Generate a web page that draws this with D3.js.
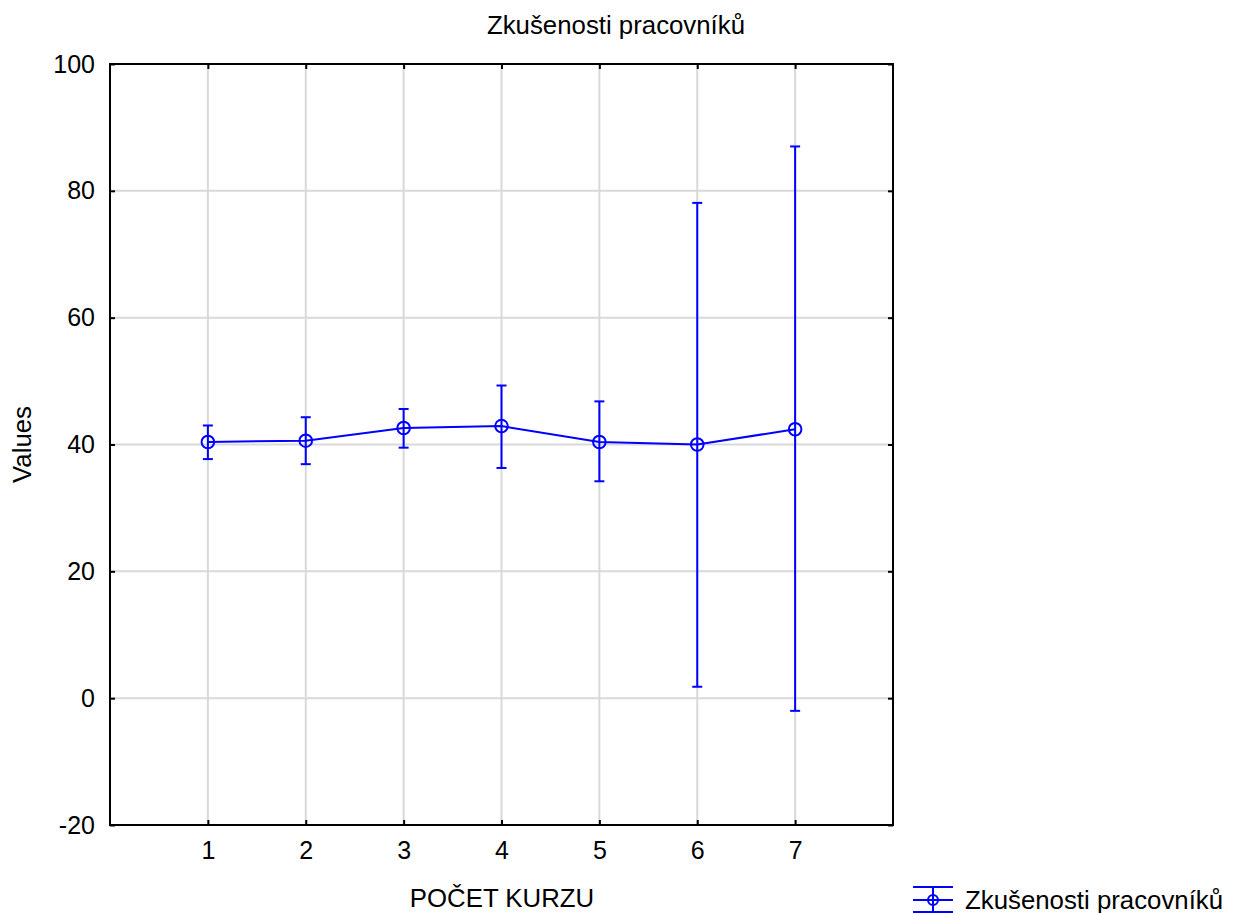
<!DOCTYPE html>
<html>
<head>
<meta charset="utf-8">
<script src="https://cdn.jsdelivr.net/npm/d3@7"></script>
<style>
  body { margin: 0; background: #fff; }
  svg text { font-family: "Liberation Sans", Arial, sans-serif; fill: #000; }
</style>
</head>
<body>
<div id="chart"></div>
<script>
// Mean with error bars per number of courses.
const categories = [1, 2, 3, 4, 5, 6, 7];
const means = [40.4, 40.6, 42.6, 42.9, 40.4, 40.0, 42.4];
const upper = [43.0, 44.3, 45.6, 49.3, 46.8, 78.1, 87.0];
const lower = [37.7, 36.9, 39.5, 36.3, 34.2, 1.8, -2.0];
const yTicks = [-20, 0, 20, 40, 60, 80, 100];
const seriesName = 'Zkušenosti pracovníků';

const data = categories.map((c, i) => ({c, m: means[i], hi: upper[i], lo: lower[i]}));

const width = 1238, height = 913;
const margin = {top: 64, right: 345, bottom: 88, left: 110};
const innerW = width - margin.left - margin.right;
const innerH = height - margin.top - margin.bottom;
const blue = '#0000ff';
const fs = 25;      // tick labels
const fsLab = 25.8; // title, axis titles, legend

const svg = d3.select('#chart').append('svg')
  .attr('width', width).attr('height', height);

const x = d3.scaleLinear().domain([0, 8]).range([0, innerW]);
const y = d3.scaleLinear().domain([-20, 100]).range([innerH, 0]);

const plot = svg.append('g').attr('transform', `translate(${margin.left},${margin.top})`);

// Grid lines
plot.selectAll('line.gx').data(categories).join('line')
  .attr('x1', d => x(d)).attr('x2', d => x(d))
  .attr('y1', 0).attr('y2', innerH)
  .attr('stroke', '#d9d9d9').attr('stroke-width', 2);
plot.selectAll('line.gy').data(yTicks.slice(1, -1)).join('line')
  .attr('y1', d => y(d)).attr('y2', d => y(d))
  .attr('x1', 0).attr('x2', innerW)
  .attr('stroke', '#d9d9d9').attr('stroke-width', 2);

// Axes with inward ticks
const axisStyle = g => {
  g.attr('font-size', fs).attr('font-family', null);
  g.select('.domain').remove();
  g.selectAll('line').attr('stroke', '#000').attr('stroke-width', 2);
};
plot.append('g').attr('transform', `translate(0,${innerH})`)
  .call(d3.axisBottom(x).tickValues(categories).tickSize(-5).tickPadding(16).tickFormat(d3.format('d')))
  .call(axisStyle);
plot.append('g')
  .call(d3.axisLeft(y).tickValues(yTicks).tickSize(-5).tickPadding(15).tickFormat(d => String(d)))
  .call(axisStyle);
plot.append('g').attr('transform', `translate(${innerW},0)`)
  .call(d3.axisRight(y).tickValues(yTicks).tickSize(-5).tickFormat(''))
  .call(axisStyle);
plot.append('g')
  .call(d3.axisTop(x).tickValues(categories).tickSize(-5).tickFormat(''))
  .call(axisStyle);
plot.append('rect').attr('width', innerW).attr('height', innerH)
  .attr('fill', 'none').attr('stroke', '#000').attr('stroke-width', 2);

// Error bars
const cap = 5;
const eb = plot.selectAll('g.eb').data(data).join('g').attr('class', 'eb');
eb.append('line')
  .attr('x1', d => x(d.c)).attr('x2', d => x(d.c))
  .attr('y1', d => y(d.hi)).attr('y2', d => y(d.lo))
  .attr('stroke', blue).attr('stroke-width', 2);
eb.append('line')
  .attr('x1', d => x(d.c) - cap).attr('x2', d => x(d.c) + cap)
  .attr('y1', d => y(d.hi)).attr('y2', d => y(d.hi))
  .attr('stroke', blue).attr('stroke-width', 2);
eb.append('line')
  .attr('x1', d => x(d.c) - cap).attr('x2', d => x(d.c) + cap)
  .attr('y1', d => y(d.lo)).attr('y2', d => y(d.lo))
  .attr('stroke', blue).attr('stroke-width', 2);

// Mean line and markers
plot.append('path').datum(data)
  .attr('d', d3.line().x(d => x(d.c)).y(d => y(d.m)))
  .attr('fill', 'none').attr('stroke', blue).attr('stroke-width', 2);
plot.selectAll('circle.pt').data(data).join('circle')
  .attr('cx', d => x(d.c)).attr('cy', d => y(d.m)).attr('r', 6.3)
  .attr('fill', 'none').attr('stroke', blue).attr('stroke-width', 2);

// Title and axis labels
svg.append('text').attr('x', 616).attr('y', 34).attr('text-anchor', 'middle')
  .attr('font-size', fsLab).text(seriesName);
svg.append('text').attr('transform', `translate(31,${margin.top + innerH / 2}) rotate(-90)`)
  .attr('text-anchor', 'middle').attr('font-size', fsLab).text('Values');
svg.append('text').attr('x', 502).attr('y', 907).attr('text-anchor', 'middle')
  .attr('font-size', fsLab).text('POČET KURZU');

// Legend
const lg = svg.append('g').attr('transform', 'translate(913,900)');
[-13, 0, 12].forEach(dy => lg.append('line')
  .attr('x1', 0).attr('x2', 40).attr('y1', dy).attr('y2', dy)
  .attr('stroke', blue).attr('stroke-width', 2));
lg.append('line').attr('x1', 20).attr('x2', 20).attr('y1', -13).attr('y2', 12)
  .attr('stroke', blue).attr('stroke-width', 2);
lg.append('circle').attr('cx', 20).attr('cy', 0).attr('r', 5)
  .attr('fill', 'none').attr('stroke', blue).attr('stroke-width', 2);
lg.append('text').attr('x', 52).attr('y', 9).attr('font-size', fsLab).text(seriesName);
</script>
</body>
</html>
